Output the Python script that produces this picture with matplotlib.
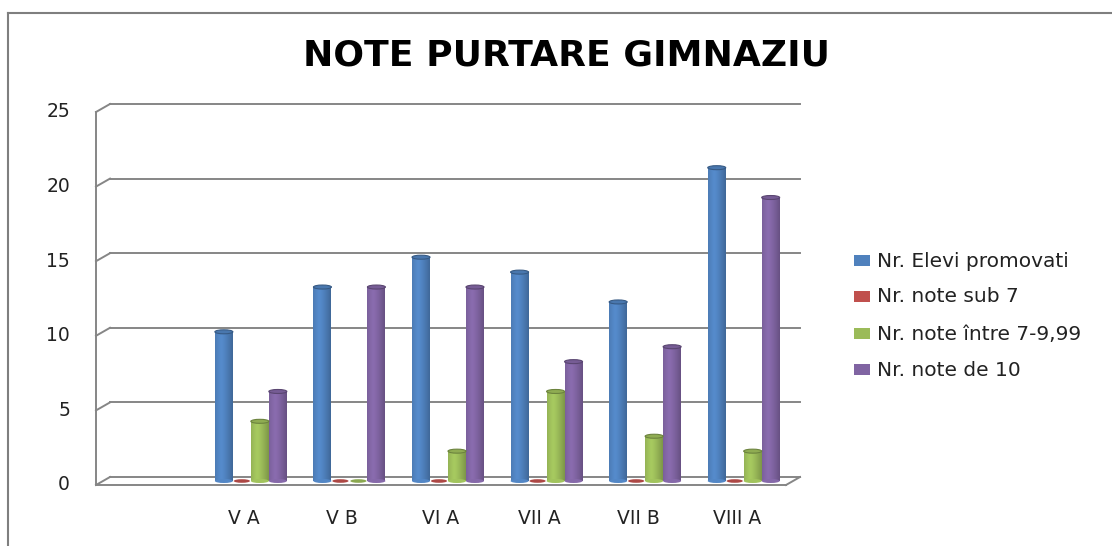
import numpy as np
import matplotlib
matplotlib.use('Agg')
import matplotlib.pyplot as plt
from matplotlib.patches import Rectangle, Ellipse
from matplotlib.transforms import ScaledTranslation, blended_transform_factory

# data (first category is empty in the original)
categories = ['', 'V A', 'V B', 'VI A', 'VII A', 'VII B', 'VIII A']
series_names = ['Nr. Elevi promovati', 'Nr. note sub 7', 'Nr. note între 7-9,99', 'Nr. note de 10']
elevi_promovati = [0, 10, 13, 15, 14, 12, 21]
note_sub7 = [0, 0, 0, 0, 0, 0, 0]
note_7_999 = [0, 4, 0, 2, 6, 3, 2]
note_10 = [0, 6, 13, 13, 8, 9, 19]
has_bars = [False, True, True, True, True, True, True]
colors = ['#4F81BD', '#C0504D', '#9BBB59', '#8064A2']
yticks = [0, 5, 10, 15, 20, 25]

W, H = 1112, 546
fig = plt.figure(figsize=(W / 100, H / 100), dpi=100)
# front plane of the 3d box
ax = fig.add_axes([96 / W, (H - 485) / H, 690 / W, 373 / H])
ax.set_xlim(-0.5, len(categories) - 0.5)
ax.set_ylim(0, 25)
ax.axis('off')

def px(dx, dy):
    return ScaledTranslation(dx / 100, dy / 100, fig.dpi_scale_trans)

grid_col = '#868686'
back = px(14, 8)
tr_y = blended_transform_factory(ax.transAxes, ax.transData)
for v in yticks:
    # back wall gridline
    ax.plot([0, 1], [v, v], color=grid_col, lw=1.4, transform=tr_y + back, clip_on=False)
    # little slant on the left wall
    ax.plot([0, 14 / 690], [v, v + 8 / 14.92], color=grid_col, lw=1.4, transform=tr_y, clip_on=False)
    ax.text(-26 / 690, v, str(v), transform=tr_y, ha='right', va='center',
            fontsize=13.5, color='#222222')
# left front edge and floor
ax.plot([0, 0], [0, 25], color=grid_col, lw=1.4, transform=tr_y, clip_on=False)
ax.plot([0, 1], [0, 0], color=grid_col, lw=1.4, transform=tr_y, clip_on=False)
ax.plot([1, 1 + 14 / 690], [0, 8 / 14.92], color=grid_col, lw=1.4, transform=tr_y, clip_on=False)

# cylinders at mid depth
mid = ax.transData + px(7, 4)
bw = 0.1825
cap_h = 4 / 14.92
all_series = [elevi_promovati, note_sub7, note_7_999, note_10]
x = np.arange(len(categories))
grad = np.linspace(0, 1, 64)
shade = 1 - 0.45 * np.abs(grad - 0.35) ** 1.3
for s, vals in enumerate(all_series):
    col = np.array(matplotlib.colors.to_rgb(colors[s]))
    img = np.clip(col[None, None, :] * shade[None, :, None] * 1.08, 0, 1)
    for i, v in enumerate(vals):
        if not has_bars[i]:
            continue
        x0 = x[i] - 2 * bw + s * bw
        if v > 0:
            rect = Rectangle((x0, 0), bw, v, transform=mid, facecolor='none', edgecolor='none')
            ax.add_patch(rect)
            im = ax.imshow(img, extent=[x0, x0 + bw, 0, v], aspect='auto', transform=mid,
                           interpolation='bilinear', zorder=2)
            im.set_clip_path(rect)
            ax.add_patch(Ellipse((x0 + bw / 2, 0), bw, cap_h, transform=mid,
                                 facecolor=img[0, 30], edgecolor='none', zorder=2))
            ax.add_patch(Ellipse((x0 + bw / 2, v), bw, cap_h, transform=mid,
                                 facecolor=col * 0.92, edgecolor=col * 0.7, lw=0.8, zorder=3))
        else:
            ax.add_patch(Ellipse((x0 + bw / 2, 0), bw * 0.9, cap_h * 0.9, transform=mid,
                                 facecolor=col * 0.9, edgecolor='none', zorder=3))

for i, c in enumerate(categories):
    ax.text(x[i], -2.25, c, ha='center', va='center', fontsize=13.5, color='#222222')

fig.text(566 / W, 1 - 55 / H, 'NOTE PURTARE GIMNAZIU', ha='center', va='center',
         fontsize=26, fontweight='bold', color='black')

# legend
leg_y = [261, 297, 334, 370]
for s, name in enumerate(series_names):
    fig.patches.append(Rectangle((854 / W, 1 - (leg_y[s] + 5) / H), 16 / W, 11 / H,
                                 transform=fig.transFigure, facecolor=colors[s], edgecolor='none'))
    fig.text(877 / W, 1 - leg_y[s] / H, name, ha='left', va='center', fontsize=14.5, color='#222222')

# outer frame
fig.add_artist(plt.Line2D([8 / W, 8 / W], [0, 1 - 13 / H], transform=fig.transFigure,
                          color='#7f7f7f', lw=1.5))
fig.add_artist(plt.Line2D([8 / W, 1], [1 - 13 / H, 1 - 13 / H], transform=fig.transFigure,
                          color='#7f7f7f', lw=1.5))

fig.savefig('out.png', dpi=100)
